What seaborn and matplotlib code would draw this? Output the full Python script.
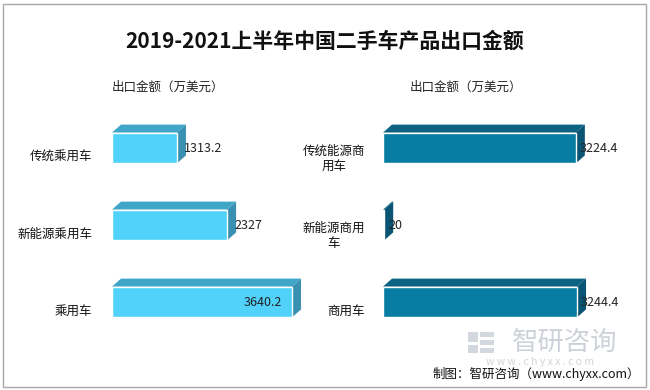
import seaborn as sns
import matplotlib.pyplot as plt
from matplotlib.patches import Polygon, Rectangle
from matplotlib.transforms import ScaledTranslation

# data
left_cats = ["传统乘用车", "新能源乘用车", "乘用车"]
left_vals = [1313.2, 2327, 3640.2]
right_cats = ["传统能源商\n用车", "新能源商用\n车", "商用车"]
right_vals = [3224.4, 20, 3244.4]

title = "2019-2021上半年中国二手车产品出口金额"
unit_label = "出口金额（万美元）"
source = "制图：智研咨询（www.chyxx.com）"

sns.set_theme(style="white")
plt.rcParams['font.family'] = ['Noto Sans CJK SC', 'DejaVu Sans']

W, H = 650, 390
fig = plt.figure(figsize=(6.5, 3.9), dpi=100)
fig.patch.set_facecolor("white")


def px_axes(l, t, w, h):
    return fig.add_axes([l / W, 1 - (t + h) / H, w / W, h / H])


def draw_panel(ax, cats, vals, xmax, width_px, front, top, side, pad, offset_px, max_inside):
    sns.barplot(x=vals, y=cats, orient="h", color=front, saturation=1,
                width=0.4, ax=ax, zorder=3)
    ax.set_xlim(0, xmax)
    ax.set_ylim(2.5, -0.5)
    # depth of the fake 3d block, in data units
    dx = 9 * xmax / width_px
    dy = 8 * 3 / 231
    for bar in ax.patches[:len(vals)]:
        x0, y0 = bar.get_x(), bar.get_y()
        w, h = bar.get_width(), bar.get_height()
        yt = min(y0, y0 + h)
        yb = max(y0, y0 + h)
        x1 = x0 + w
        ax.add_patch(Polygon([(x0, yt), (x1, yt), (x1 + dx, yt - dy), (x0 + dx, yt - dy)],
                             closed=True, facecolor=top, edgecolor="none", zorder=2))
        ax.add_patch(Polygon([(x1, yt), (x1 + dx, yt - dy), (x1 + dx, yb - dy), (x1, yb)],
                             closed=True, facecolor=side, edgecolor="none", zorder=2))
    for i, v in enumerate(vals):
        lbl = f"{v:g}"
        if max_inside and v == max(vals):
            ax.annotate(lbl, (v, i), xytext=(-10 * 0.72, 0), textcoords="offset points",
                        ha="right", va="center", fontsize=9, color="#222222", zorder=5)
        else:
            ax.annotate(lbl, (v, i), xytext=(offset_px * 0.72, 0), textcoords="offset points",
                        ha="left", va="center", fontsize=9, color="#222222", zorder=5)
    ax.set_xlabel("")
    ax.set_ylabel("")
    ax.set_xticks([])
    ax.tick_params(axis="y", length=0, pad=pad, labelsize=9, labelcolor="#111111")
    shift = ScaledTranslation(0, -8 / 100, fig.dpi_scale_trans)
    for t in ax.get_yticklabels():
        t.set_multialignment("center")
        t.set_transform(t.get_transform() + shift)
    for s in ax.spines.values():
        s.set_visible(False)
    ax.set_facecolor("none")


ax1 = px_axes(112, 109.5, 200, 231)
draw_panel(ax1, left_cats, left_vals, 200 * 20.22, 200,
           "#50d2fa", "#3fa6c8", "#3a90b0", 14, 7, True)

ax2 = px_axes(383, 109.5, 250, 231)
draw_panel(ax2, right_cats, right_vals, 250 * 16.72, 250,
           "#087ca3", "#0b6282", "#0a5573", 13, 4, False)

fig.text(325 / W, 1 - 41 / H, title, ha="center", va="center",
         fontsize=15, fontweight="bold", color="#111111")
fig.text(112 / W, 1 - 87 / H, unit_label, ha="left", va="center", fontsize=9, color="#222222")
fig.text(410 / W, 1 - 87 / H, unit_label, ha="left", va="center", fontsize=9, color="#222222")

# watermark
wm = "#c9cfd8"
for (l, t, w, h) in [(468, 332, 10, 10), (480, 332, 14, 5), (480, 340, 14, 5),
                     (468, 345, 10, 8), (480, 348, 14, 5)]:
    fig.patches.append(Rectangle((l / W, 1 - (t + h) / H), w / W, h / H,
                                 transform=fig.transFigure, facecolor=wm,
                                 edgecolor="none", alpha=0.8))
fig.text(565 / W, 1 - 342 / H, "智研咨询", ha="center", va="center",
         fontsize=19, color="#cdd1d8")
fig.text(540 / W, 1 - 362 / H, "w w w . c h y x x . c o m", ha="center", va="center",
         fontsize=7.5, color="#d2d5da")
fig.text(640 / W, 1 - 374 / H, source, ha="right", va="center", fontsize=9, color="#111111")

fig.patches.append(Rectangle((3 / W, 3 / H), 643 / W, 383 / H, transform=fig.transFigure,
                             fill=False, edgecolor="#a8a8a8", linewidth=1))

fig.savefig("out.png", dpi=100, facecolor="white")
